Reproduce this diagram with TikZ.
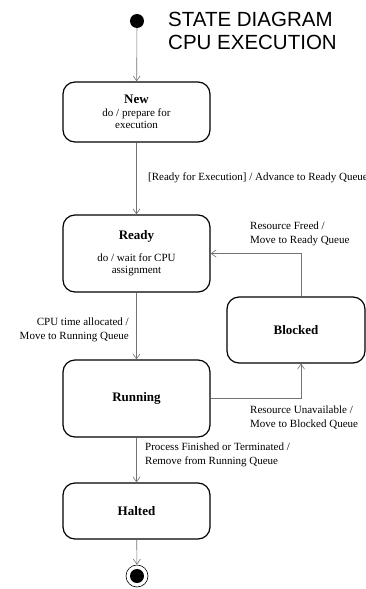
\documentclass[tikz,border=0pt]{standalone}
\usepackage{fontspec}
\setmainfont{Liberation Serif}
\newfontfamily\titlefont{Liberation Sans}
\usetikzlibrary{calc,arrows.meta}
\tikzset{
  statebox/.style={
    draw,
    line width=1.2pt,
    rounded corners=12pt,
    minimum width=147pt,
    align=center,
    inner sep=2pt,
    font=\fontsize{11}{12.5}\selectfont
  },
  initial/.style={
    shape = circle,
    fill,
    inner sep = 0pt,
    minimum size = 14pt
  },
  transition/.style={
    draw=black!55,
    line width=0.6pt,
    -{Straight Barb[length=5pt,width=7pt]}
  },
  translabel/.style={
    align=left,
    inner sep=0pt,
    font=\fontsize{11}{14}\selectfont
  }
}

\begin{document}
\begin{tikzpicture}[x=1pt,y=-1pt]
            \fill[white] (0,0) rectangle (366,589);
            \clip (0,0) rectangle (366,589);
            % states
            \node[initial] (start) at (137,21) {};
            \node[anchor=west,align=left,inner sep=0pt,font=\titlefont\fontsize{20.5}{23}\selectfont] (title) at (168,31) {STATE DIAGRAM\\CPU EXECUTION};
            \node[statebox,minimum height=60pt] (new) at (136.5,112) {\textbf{\fontsize{13}{14}\selectfont New}\\do / prepare for\\execution};
            \node[statebox,minimum height=77pt] (ready) at (136.5,253.5) {\textbf{\fontsize{13}{14}\selectfont Ready}\\[9pt]do / wait for CPU\\assignment};
            \node[statebox,minimum width=138pt,minimum height=66pt] (blocked) at (296,330) {\textbf{\fontsize{13}{14}\selectfont Blocked}};
            \node[statebox,minimum height=77pt] (running) at (136.5,398.5) {\textbf{\fontsize{13}{14}\selectfont Running}};
            \node[statebox,minimum height=56pt] (halted) at (136.5,511) {\textbf{\fontsize{13}{14}\selectfont Halted}};
            \node[draw,circle,line width=0.6pt,minimum size=22pt,inner sep=0pt] (final) at (137,576) {};
            \node[initial] (finaldot) at (final) {};
            % transitions
            \draw[transition] (start) -- (new);
            \draw[transition] (new) -- (ready);
            \draw[transition] (ready) -- (running);
            \draw[transition] (running) -- (halted);
            \draw[transition] (halted) -- (final);
            \draw[transition] ([xshift=5pt]blocked.north) |- (ready.east);
            \draw[transition] (running.east) -| ([xshift=5pt]blocked.south);
            % labels
            \node[translabel,anchor=west] (l1) at (148,178) {[Ready for Execution] / Advance to Ready Queue};
            \node[translabel,anchor=west] (l2) at (250,234) {Resource Freed /\\Move to Ready Queue};
            \node[translabel,anchor=east,align=right] (l3) at (129,330) {CPU time allocated /\\Move to Running Queue};
            \node[translabel,anchor=west] (l4) at (250,418) {Resource Unavailable /\\Move to Blocked Queue};
            \node[translabel,anchor=west] (l5) at (145,455) {Process Finished or Terminated /\\Remove from Running Queue};
        \end{tikzpicture}
\end{document}
